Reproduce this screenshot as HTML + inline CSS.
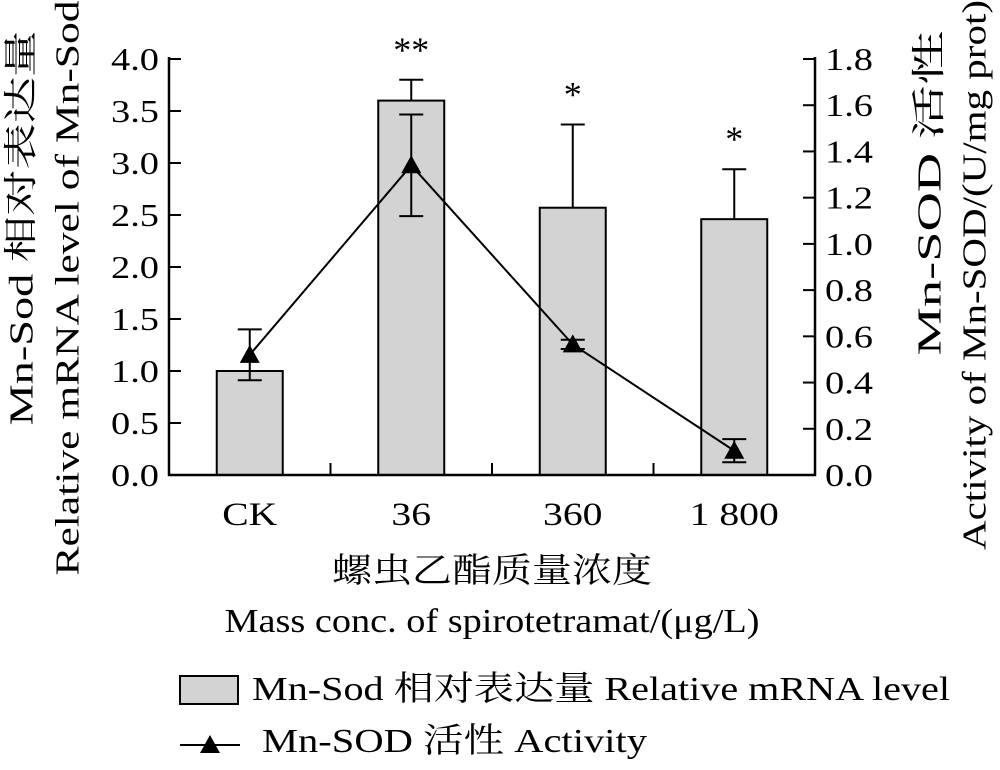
<!DOCTYPE html>
<html><head><meta charset="utf-8"><style>
body{margin:0;background:#fff}
svg text{font-family:"Liberation Serif","Noto Serif CJK SC","Noto Sans CJK SC",serif;fill:#000}
</style></head><body>
<svg id="c" width="1000" height="765" viewBox="0 0 1000 765" xmlns="http://www.w3.org/2000/svg">
<g id="plot"></g>
<text x="22" y="228" font-size="34" text-anchor="middle" textLength="395" lengthAdjust="spacingAndGlyphs" transform="rotate(-90 22 228)" dominant-baseline="central">Mn-Sod 相对表达量</text>
<text x="68" y="288" font-size="34" text-anchor="middle" textLength="575" lengthAdjust="spacingAndGlyphs" transform="rotate(-90 68 288)" dominant-baseline="central">Relative mRNA level of Mn-Sod</text>
<text x="930" y="193" font-size="34" text-anchor="middle" textLength="325" lengthAdjust="spacingAndGlyphs" transform="rotate(-90 930 193)" dominant-baseline="central">Mn-SOD 活性</text>
<text x="975" y="275" font-size="34" text-anchor="middle" textLength="550" lengthAdjust="spacingAndGlyphs" transform="rotate(-90 975 275)" dominant-baseline="central">Activity of Mn-SOD/(U/mg prot)</text>
<text x="492" y="582" font-size="34" text-anchor="middle" textLength="320" lengthAdjust="spacingAndGlyphs">螺虫乙酯质量浓度</text>
<text x="492" y="632" font-size="34" text-anchor="middle" textLength="535" lengthAdjust="spacingAndGlyphs">Mass conc. of spirotetramat/(μg/L)</text>
<g>
<rect x="180" y="676" width="58" height="28" fill="#d3d3d3" stroke="#000" stroke-width="2"/>
<text x="252" y="700" font-size="34" textLength="698" lengthAdjust="spacingAndGlyphs">Mn-Sod 相对表达量 Relative mRNA level</text>
<line x1="180" y1="745" x2="240" y2="745" stroke="#000" stroke-width="2"/>
<polygon points="210,735 200,753 220,753" fill="#000"/>
<text x="262" y="752" font-size="34" textLength="385" lengthAdjust="spacingAndGlyphs">Mn-SOD 活性 Activity</text>
</g>
</svg>
<script>
const categories=["CK","36","360","1 800"];
const barValues=[1.0,3.6,2.57,2.46];
const barErrUp=[0,0.2,0.8,0.48];
const sigMarks=["","**","*","*"];
const lineValues=[0.52,1.34,0.565,0.105];
const lineErr=[0.11,0.22,0.02,0.05];
const leftTicks=["0.0","0.5","1.0","1.5","2.0","2.5","3.0","3.5","4.0"];
const rightTicks=["0.0","0.2","0.4","0.6","0.8","1.0","1.2","1.4","1.6","1.8"];
const NS="http://www.w3.org/2000/svg";
const X0=169,X1=815,Y0=475,Y1=59;
const yL=v=>Y0-(v/4.0)*(Y0-Y1);
const yR=v=>Y0-(v/1.8)*(Y0-Y1);
const band=(X1-X0)/categories.length;
const xC=i=>X0+band*(i+0.5);
const g=document.getElementById('plot');
function mk(t,a){const e=document.createElementNS(NS,t);for(const k in a)e.setAttribute(k,a[k]);g.appendChild(e);return e;}
function widen(el,f){const w=el.getComputedTextLength();el.setAttribute('textLength',w*f);el.setAttribute('lengthAdjust','spacingAndGlyphs');}
barValues.forEach((v,i)=>{
 const b=mk('rect',{x:xC(i)-33,y:yL(v),width:66,height:Y0-yL(v),fill:'#d3d3d3',stroke:'#000','stroke-width':2});
 
 
 if(barErrUp[i]>0){
  const e=mk('path',{d:`M${xC(i)},${yL(v)}V${yL(v+barErrUp[i])}M${xC(i)-12},${yL(v+barErrUp[i])}H${xC(i)+12}`,stroke:'#000','stroke-width':2,fill:'none'});
  
  
 }
 const s=mk('text',{x:xC(i),y:yL(v+barErrUp[i])-18,'font-size':36,'text-anchor':'middle'});
 s.textContent=sigMarks[i];
 
 
});
const ax=mk('path',{d:`M${X0},${Y1-2}V${Y0}H${X1}V${Y1-2}`,stroke:'#000','stroke-width':2.5,fill:'none'});


leftTicks.forEach((t,i)=>{
 const v=parseFloat(t),y=yL(v);
 mk('line',{x1:X0,x2:X0+12,y1:y,y2:y,stroke:'#000','stroke-width':2});
 const tx=mk('text',{x:X0-10,y:y+11,'font-size':32,'text-anchor':'end'});
 tx.textContent=t;
 
 
 widen(tx,1.2);
});
rightTicks.forEach((t,i)=>{
 const v=parseFloat(t),y=yR(v);
 mk('line',{x1:X1-12,x2:X1,y1:y,y2:y,stroke:'#000','stroke-width':2});
 const tx=mk('text',{x:X1+10,y:y+11,'font-size':32,'text-anchor':'start'});
 tx.textContent=t;
 
 
 widen(tx,1.2);
});
categories.forEach((c,i)=>{
 if(i>0) mk('line',{x1:X0+band*i,x2:X0+band*i,y1:Y0,y2:Y0-12,stroke:'#000','stroke-width':2});
 const tx=mk('text',{x:xC(i),y:Y0+50,'font-size':33,'text-anchor':'middle'});
 tx.textContent=c;
 
 
 widen(tx,1.2);
});
const ln=mk('polyline',{points:lineValues.map((v,i)=>xC(i)+','+yR(v)).join(' '),fill:'none',stroke:'#000','stroke-width':2});


lineValues.forEach((v,i)=>{
 const x=xC(i),t=yR(v+lineErr[i]),b=yR(v-lineErr[i]);
 const e=mk('path',{d:`M${x},${t}V${b}M${x-12},${t}H${x+12}M${x-12},${b}H${x+12}`,stroke:'#000','stroke-width':2,fill:'none'});
 
 
 const y=yR(v);
 const p=mk('polygon',{points:`${x},${y-10} ${x-10},${y+8} ${x+10},${y+8}`,fill:'#000'});
 
 
});
</script>
</body></html>
